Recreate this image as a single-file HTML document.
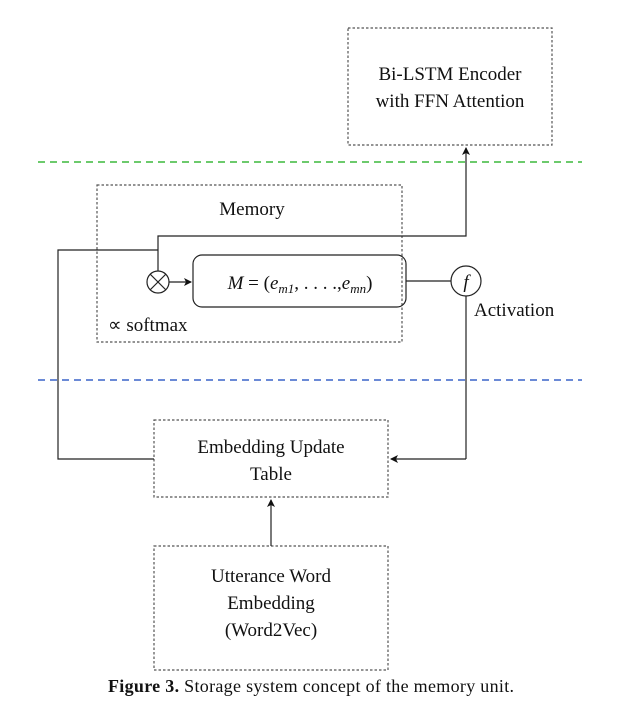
<!DOCTYPE html>
<html><head><style>
body{margin:0;background:#fff;}
svg text{font-family:"Liberation Serif",serif;fill:#111;}
</style></head><body>
<svg width="628" height="697" viewBox="0 0 628 697" xmlns="http://www.w3.org/2000/svg">
<defs><marker id="a" markerWidth="8" markerHeight="8" refX="7" refY="4" orient="auto" markerUnits="userSpaceOnUse"><path d="M0,0 L8,4 L0,8 L2,4 Z" fill="#111"/></marker></defs>
<g fill="none" stroke="#555" stroke-width="1.2" stroke-dasharray="2.5,2">
<rect x="348" y="28" width="204" height="117"/>
<rect x="97" y="185" width="305" height="157"/>
<rect x="154" y="420" width="234" height="77"/>
<rect x="154" y="546" width="234" height="124"/>
</g>
<line x1="38" y1="162" x2="582" y2="162" stroke="#3cb83c" stroke-width="1.5" stroke-dasharray="7,5"/>
<line x1="38" y1="380" x2="582" y2="380" stroke="#3a64c8" stroke-width="1.5" stroke-dasharray="7,5"/>
<g fill="none" stroke="#222" stroke-width="1.2">
<polyline points="158,271 158,236 466,236 466,148" marker-end="url(#a)"/>
<line x1="466" y1="296" x2="466" y2="459"/>
<polyline points="466,459 391,459" marker-end="url(#a)"/>
<polyline points="154,459 58,459 58,250 158,250"/>
<line x1="271" y1="546" x2="271" y2="500" marker-end="url(#a)"/>
<line x1="169" y1="282" x2="191" y2="282" marker-end="url(#a)"/>
<line x1="406" y1="281" x2="451" y2="281"/>
<circle cx="158" cy="282" r="11"/>
<line x1="150" y1="274" x2="166" y2="290"/><line x1="166" y1="274" x2="150" y2="290"/>
<circle cx="466" cy="281" r="15"/>
<rect x="193" y="255" width="213" height="52" rx="9"/>
</g>
<g font-size="19" text-anchor="middle">
<text x="450" y="80">Bi-LSTM Encoder</text>
<text x="450" y="107">with FFN Attention</text>
<text x="252" y="215">Memory</text>
<text x="271" y="453">Embedding Update</text>
<text x="271" y="480">Table</text>
<text x="271" y="582">Utterance Word</text>
<text x="271" y="609">Embedding</text>
<text x="271" y="636">(Word2Vec)</text>
</g>
<text x="300" y="289" font-size="19" text-anchor="middle" font-style="italic">M <tspan font-style="normal">= (</tspan>e<tspan font-size="13" dy="4">m1</tspan><tspan dy="-4" font-style="normal">, . . . .,</tspan>e<tspan font-size="13" dy="4">mn</tspan><tspan dy="-4" font-style="normal">)</tspan></text>
<text x="466" y="288" font-size="19" text-anchor="middle" font-style="italic">f</text>
<text x="108" y="331" font-size="19">∝ softmax</text>
<text x="474" y="316" font-size="19">Activation</text>
<text x="311" y="692" font-size="18" text-anchor="middle" textLength="406"><tspan font-weight="bold">Figure 3.</tspan> Storage system concept of the memory unit.</text>
</svg>
</body></html>
